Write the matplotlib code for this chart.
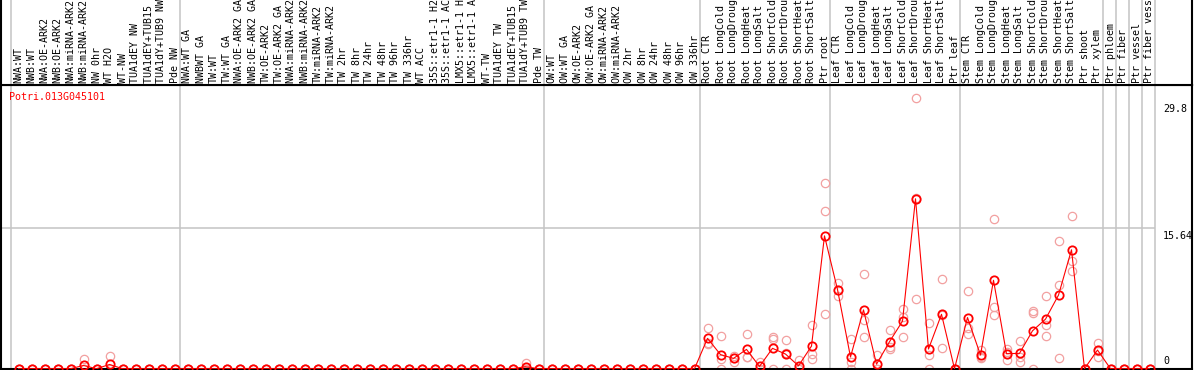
import matplotlib
matplotlib.use('Agg')
import matplotlib.pyplot as plt
import numpy as np

labels = [
    # NW
    'NWA:WT', 'NWB:WT', 'NWA:OE-ARK2', 'NWB:OE-ARK2', 'NWA:miRNA-ARK2', 'NWB:miRNA-ARK2',
    'NW 0hr', 'WT H2O', 'WT-NW', 'TUA1dEY NW', 'TUA1dEY+TUB15 NW', 'TUA1dY+TUB9 NW', 'Pde NW',
    # TW
    'NWA:WT GA', 'NWBWT GA', 'TW:WT', 'TW:WT GA', 'NWA:OE-ARK2 GA', 'NWB:OE-ARK2 GA',
    'TW:OE-ARK2', 'TW:OE-ARK2 GA', 'NWA:miRNA-ARK2 GA', 'NWB:miRNA-ARK2 GA', 'TW:miRNA-ARK2',
    'TW:miRNA-ARK2 GA', 'TW 2hr', 'TW 8hr', 'TW 24hr', 'TW 48hr', 'TW 96hr', 'TW 336hr', 'WT ACC',
    '35S::etr1-1 H2O', '35S::etr1-1 ACC', 'LMX5::etr1-1 H2O', 'LMX5::etr1-1 ACC', 'WT-TW',
    'TUA1dEY TW', 'TUA1dEY+TUB15 TW', 'TUA1dY+TUB9 TW', 'Pde TW',
    # OW
    'OW:WT', 'OW:WT GA', 'OW:OE-ARK2', 'OW:OE-ARK2 GA', 'OW:miRNA-ARK2', 'OW:miRNA-ARK2 GA',
    'OW 2hr', 'OW 8hr', 'OW 24hr', 'OW 48hr', 'OW 96hr', 'OW 336hr',
    # root
    'Root CTR', 'Root LongCold', 'Root LongDrought', 'Root LongHeat', 'Root LongSalt',
    'Root ShortCold', 'Root ShortDrought', 'Root ShortHeat', 'Root ShortSalt', 'Ptr root',
    # leaf
    'Leaf CTR', 'Leaf LongCold', 'Leaf LongDrought', 'Leaf LongHeat', 'Leaf LongSalt',
    'Leaf ShortCold', 'Leaf ShortDrought', 'Leaf ShortHeat', 'Leaf ShortSalt', 'Ptr leaf',
    # stem
    'Stem CTR', 'Stem LongCold', 'Stem LongDrought', 'Stem LongHeat', 'Stem LongSalt',
    'Stem ShortCold', 'Stem ShortDrought', 'Stem ShortHeat', 'Stem ShortSalt', 'Ptr shoot',
    'Ptr xylem',
    'Ptr phloem', 'Ptr fiber', 'Ptr vessel', 'Ptr fiber vessel',
]

means = [
    0, 0, 0, 0, 0, 0.36, 0, 0.47, 0, 0, 0, 0, 0,
    0, 0, 0, 0, 0, 0, 0, 0, 0, 0, 0, 0, 0, 0, 0, 0, 0, 0, 0, 0, 0, 0, 0, 0, 0, 0, 0.22, 0,
    0, 0, 0, 0, 0, 0, 0, 0, 0, 0, 0, 0,
    3.38, 1.57, 1.15, 2.15, 0.25, 2.27, 1.63, 0.32, 2.52, 14.8,
    8.82, 1.3, 6.55, 0.5, 3.0, 5.3, 18.93, 2.19, 6.06, 0,
    5.7, 1.52, 9.85, 1.67, 1.71, 4.22, 5.52, 8.2, 13.25, 0, 2.08,
    0, 0, 0, 0,
]

rep1 = [
    0, 0, 0, 0, 0, 1.08, 0, 1.4, 0, 0, 0, 0, 0,
    0, 0, 0, 0, 0, 0, 0, 0, 0, 0, 0, 0, 0, 0, 0, 0, 0, 0, 0, 0, 0, 0, 0, 0, 0, 0, 0.67, 0,
    0, 0, 0, 0, 0, 0, 0, 0, 0, 0, 0, 0,
    4.5, 3.63, 1.45, 3.9, 0.75, 3.49, 3.19, 0.96, 4.85, 20.7,
    9.6, 3.26, 10.6, 1.5, 4.3, 6.6, 30.1, 5.05, 9.96, 0,
    8.65, 2.1, 16.64, 2.19, 3.05, 6.46, 8.13, 14.22, 17.0, 0, 2.9,
    0, 0, 0, 0,
]
rep2 = [
    0, 0, 0, 0, 0, 0, 0, 0, 0, 0, 0, 0, 0,
    0, 0, 0, 0, 0, 0, 0, 0, 0, 0, 0, 0, 0, 0, 0, 0, 0, 0, 0, 0, 0, 0, 0, 0, 0, 0, 0, 0,
    0, 0, 0, 0, 0, 0, 0, 0, 0, 0, 0, 0,
    2.9, 1.08, 1.2, 1.3, 0, 3.33, 1.7, 0, 1.63, 17.6,
    8.8, 0.78, 5.4, 0, 2.45, 5.74, 19.0, 1.52, 5.95, 0,
    4.5, 1.3, 6.9, 1.85, 1.33, 6.24, 4.83, 9.32, 12.0, 0, 2.0,
    0, 0, 0, 0,
]
rep3 = [
    0, 0, 0, 0, 0, 0, 0, 0, 0, 0, 0, 0, 0,
    0, 0, 0, 0, 0, 0, 0, 0, 0, 0, 0, 0, 0, 0, 0, 0, 0, 0, 0, 0, 0, 0, 0, 0, 0, 0, 0, 0,
    0, 0, 0, 0, 0, 0, 0, 0, 0, 0, 0, 0,
    2.75, 0, 0.8, 1.25, 0, 0, 0, 0, 1.08, 6.04,
    8.1, 0, 3.56, 0, 2.25, 3.56, 7.8, 0, 2.27, 0,
    3.83, 1.15, 5.95, 0.97, 0.75, 0, 3.64, 1.15, 10.92, 0, 1.34,
    0, 0, 0, 0,
]

group_starts = [0, 13, 41, 53, 63, 73, 84, 85, 86, 87, 88]
ytick_vals = [29.8, 15.64, 0]
gene = 'Potri.013G045101'

W, H = 1194, 370
def px_box(x0, y0, x1, y1):
    return [x0 / W, 1 - y1 / H, (x1 - x0) / W, (y1 - y0) / H]

mono = 'DejaVu Sans Mono'
grid_c = '#c4c4c4'

fig = plt.figure(figsize=(W / 100, H / 100), dpi=100)
ax = fig.add_axes(px_box(1, 85, 1192, 368.7))
lab = fig.add_axes(px_box(1, 0, 1192, 85))

x = np.arange(len(labels))
xlim = ((1 - 18.5) / 13, (1192 - 18.5) / 13)
for a in (ax, lab):
    a.set_xlim(xlim)
    a.set_xticks([])
    a.set_yticks([])
    for s in group_starts:
        a.axvline(s - 0.6, color=grid_c, lw=1.1, zorder=1)
    for sp in a.spines.values():
        sp.set_linewidth(1.5)
        sp.set_color('black')
lab.spines['top'].set_visible(False)
lab.set_ylim(85, 0)
ax.set_ylim(0, (368.7 - 85) / 8.977)

ax.hlines(15.64, xlim[0], 88 - 0.6, color=grid_c, lw=1.1, zorder=1)

for r in (rep1, rep2, rep3):
    ax.plot(x, r, ls='none', marker='o', ms=6, mfc='none', mec='#f2a0a0', mew=0.9, zorder=2)
ax.plot(x, means, color='red', lw=0.8, zorder=3)
ax.plot(x, means, ls='none', marker='o', ms=6, mfc='none', mec='red', mew=1.3, zorder=4)

for i, t in enumerate(labels):
    lab.text(i, 83, t, rotation=90, ha='center', va='bottom', fontsize=7.2,
             family=mono, clip_on=True)

for v in ytick_vals:
    if v == 0:
        ax.annotate('0', xy=((1163 - 18.5) / 13, v), xytext=(0, 2), textcoords='offset points',
                    ha='left', va='bottom', fontsize=7.2, family=mono)
    else:
        ax.annotate(str(v), xy=((1163 - 18.5) / 13, v), xytext=(0, -2), textcoords='offset points',
                    ha='left', va='top', fontsize=7.2, family=mono)

ax.annotate(gene, xy=(0, 1), xycoords='axes fraction', xytext=(5.8, -8.6),
            textcoords='offset points', ha='left', va='center', fontsize=7.2,
            family=mono, color='red')

fig.savefig('out.png', dpi=100)
